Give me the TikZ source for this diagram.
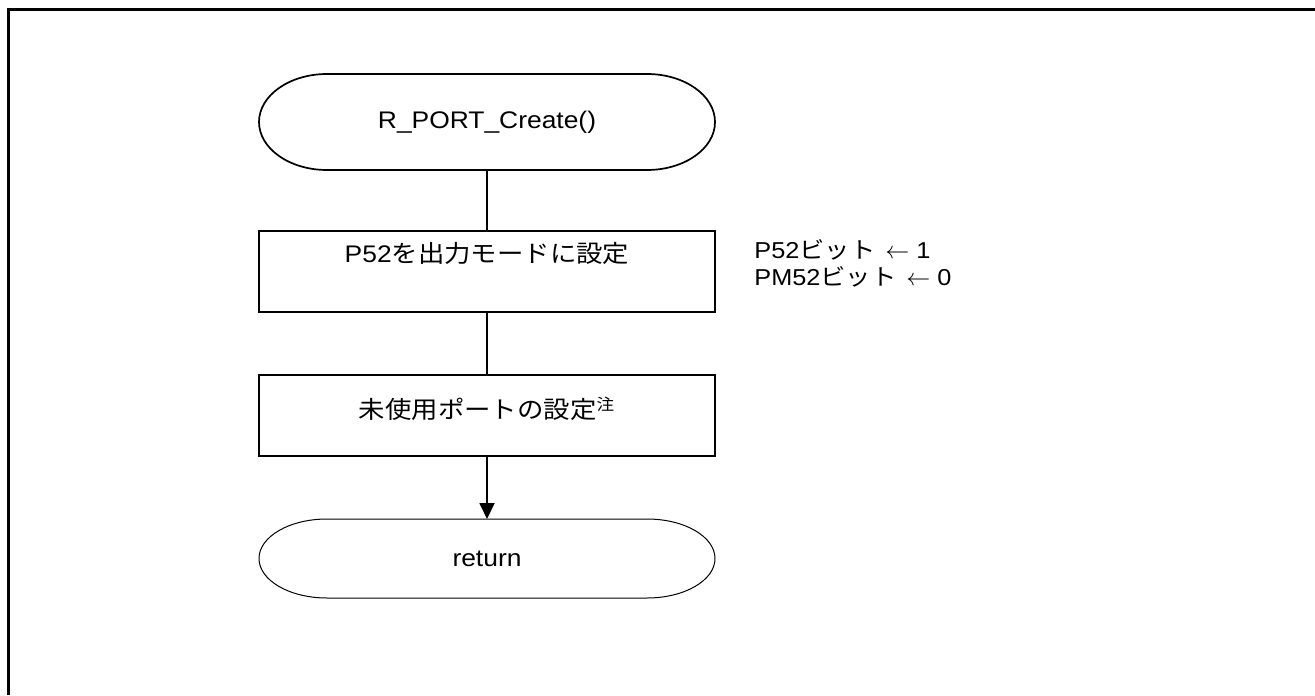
\documentclass[tikz,border=0pt]{standalone}
\usepackage{fontspec}
\setmainfont{Liberation Sans}[FakeStretch=1.1]
\newfontfamily\jp{Noto Sans CJK JP}[FakeStretch=1.1]
\usetikzlibrary{arrows.meta,positioning}
% outline of a terminal: node, half height, line width
\newcommand{\termoutline}[3]{%
  \draw[line width=#3] ([xshift=34pt]#1.north west) -- ([xshift=-34pt]#1.north east)
    arc[start angle=90, end angle=-90, x radius=34pt, y radius=#2]
    -- ([xshift=34pt]#1.south west)
    arc[start angle=270, end angle=90, x radius=34pt, y radius=#2] -- cycle;}
% assignment arrow
\newcommand{\setto}{\hspace{5pt}\resizebox{12pt}{\height}{$\leftarrow$}\hspace{3.5pt}}
\begin{document}
\begin{tikzpicture}[x=0.5pt, y=-0.5pt,
    term/.style={minimum width=228pt, outer sep=0pt, font=\fontsize{12}{14}\selectfont},
    proc/.style={draw, line width=1pt, minimum width=228pt, minimum height=40.5pt,
                 outer sep=0pt, text height=10pt, font=\fontsize{12}{14}\selectfont},
    note/.style={align=left, inner sep=0pt, font=\fontsize{11.5}{13.5}\selectfont},
    flow/.style={line width=0.9pt}]
    \useasboundingbox (0,0) rectangle (1315,695);
    % frame
    \draw [line width=1.5pt] (8,695) -- (8,10) -- (1315,10);
    % steps
    \node [term, minimum height=48pt] (start) at (487,122) {R\_PORT\_Create()};
    \node [proc, text depth=18.7pt] (outmode) at (487,271.5) {P52{\jp を出力モードに設定}};
    \node [proc, text depth=6.7pt] (unused) at (487,415.5) {{\jp 未使用ポートの設定}\textsuperscript{\jp 注}};
    \node [term, minimum height=39.5pt] (ret) at (487,558.5) {return};
    \termoutline{start}{24pt}{0.85pt}
    \termoutline{ret}{19.75pt}{0.5pt}
    % register settings
    \node [note, anchor=west] (bits) at (754,263)
        {P52{\jp ビット}\setto 1\\PM52{\jp ビット}\setto 0};
    % connectors
    \draw [flow] (start) -- (outmode);
    \draw [flow] (outmode) -- (unused);
    \draw [flow, -{Triangle[length=8pt, width=7.5pt]}] (unused) -- (ret);
\end{tikzpicture}
\end{document}
